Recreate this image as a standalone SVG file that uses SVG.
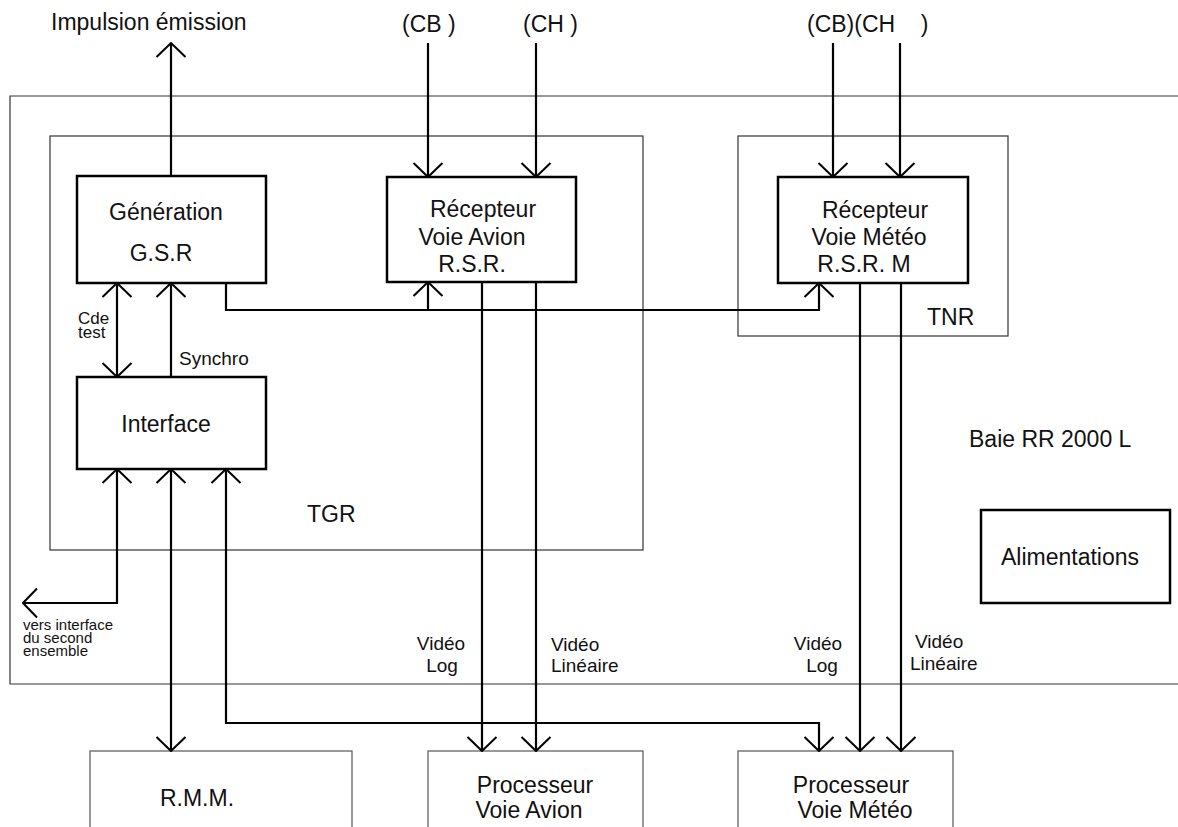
<svg xmlns="http://www.w3.org/2000/svg" width="1178" height="827" viewBox="0 0 1178 827">
<style>
text{font-family:"Liberation Sans",Arial,sans-serif;fill:#111;}
.t22{font-size:23px;}
.t19{font-size:19px;}
.t17{font-size:17px;}
.t18{font-size:19px;}
.t15{font-size:15px;}
.box{fill:#fff;stroke:#000;stroke-width:2.5;}
.thin{fill:none;stroke:#333;stroke-width:1.2;}
.bot{fill:#fff;stroke:#555;stroke-width:1.2;}
.c{fill:none;stroke:#000;stroke-width:2.2;}
</style>
<defs>
<marker id="ah" viewBox="0 0 16 32" refX="15" refY="16" markerWidth="16" markerHeight="32" markerUnits="userSpaceOnUse" orient="auto-start-reverse">
<path d="M1,1.5 L15,16 L1,30.5" fill="none" stroke="#000" stroke-width="2"/>
</marker>
</defs>
<rect width="1178" height="827" fill="#fff"/>
<g id="baie">
<path class="thin" d="M1180,96 H10 V684 H1180"/>
<text class="t22" x="969" y="447">Baie RR 2000 L</text>
</g>
<g id="tgr">
<rect class="thin" x="50" y="136" width="593" height="414"/>
<text class="t22" x="307" y="522">TGR</text>
</g>
<g id="tnr">
<rect class="thin" x="738" y="136" width="270" height="200"/>
<text class="t22" x="927" y="325">TNR</text>
</g>
<g id="generation">
<rect class="box" x="77" y="176" width="189" height="107"/>
<text class="t22" x="166" y="220" text-anchor="middle">Génération</text>
<text class="t22" x="161" y="261" text-anchor="middle">G.S.R</text>
</g>
<g id="recepteur-avion">
<rect class="box" x="387" y="177" width="189" height="105"/>
<text class="t22" x="483" y="217" text-anchor="middle">Récepteur</text>
<text class="t22" x="472" y="245" text-anchor="middle">Voie Avion</text>
<text class="t22" x="472" y="272" text-anchor="middle">R.S.R.</text>
</g>
<g id="recepteur-meteo">
<rect class="box" x="778" y="177" width="190" height="106"/>
<text class="t22" x="875" y="218" text-anchor="middle">Récepteur</text>
<text class="t22" x="869" y="245" text-anchor="middle">Voie Météo</text>
<text class="t22" x="864" y="272" text-anchor="middle">R.S.R. M</text>
</g>
<g id="interface">
<rect class="box" x="77" y="377" width="189" height="92"/>
<text class="t22" x="166" y="432" text-anchor="middle">Interface</text>
</g>
<g id="alimentations">
<rect class="box" x="981" y="510" width="189" height="93"/>
<text class="t22" x="1070" y="565" text-anchor="middle">Alimentations</text>
</g>
<g id="rmm">
<rect class="bot" x="90" y="751" width="262" height="90"/>
<text class="t22" x="197" y="806" text-anchor="middle">R.M.M.</text>
</g>
<g id="proc-avion">
<rect class="bot" x="428" y="751" width="215" height="90"/>
<text class="t22" x="535" y="793" text-anchor="middle">Processeur</text>
<text class="t22" x="529" y="818" text-anchor="middle">Voie Avion</text>
</g>
<g id="proc-meteo">
<rect class="bot" x="738" y="751" width="215" height="90"/>
<text class="t22" x="851" y="793" text-anchor="middle">Processeur</text>
<text class="t22" x="855" y="818" text-anchor="middle">Voie Météo</text>
</g>
<g id="connectors">
<path class="c" d="M171,176 V43" marker-end="url(#ah)"/>
<path class="c" d="M428,43 V177" marker-end="url(#ah)"/>
<path class="c" d="M536,43 V177" marker-end="url(#ah)"/>
<path class="c" d="M833,43 V177" marker-end="url(#ah)"/>
<path class="c" d="M900,43 V177" marker-end="url(#ah)"/>
<path class="c" d="M226,283 V310 H819 V283" marker-end="url(#ah)"/>
<path class="c" d="M428,310 V282" marker-end="url(#ah)"/>
<path class="c" d="M117,283 V377" marker-start="url(#ah)" marker-end="url(#ah)"/>
<path class="c" d="M171,377 V283" marker-end="url(#ah)"/>
<path class="c" d="M23,603 H117 V469" marker-start="url(#ah)" marker-end="url(#ah)"/>
<path class="c" d="M171,469 V751" marker-start="url(#ah)" marker-end="url(#ah)"/>
<path class="c" d="M226,469 V723 H819 V751" marker-start="url(#ah)" marker-end="url(#ah)"/>
<path class="c" d="M482,282 V751" marker-end="url(#ah)"/>
<path class="c" d="M536,282 V751" marker-end="url(#ah)"/>
<path class="c" d="M860,283 V751" marker-end="url(#ah)"/>
<path class="c" d="M901,283 V751" marker-end="url(#ah)"/>
</g>
<g id="labels">
<text class="t22" x="51" y="30">Impulsion émission</text>
<text class="t22" x="402" y="32">(CB )</text>
<text class="t22" x="523" y="32">(CH )</text>
<text class="t22" x="807" y="32" xml:space="preserve">(CB)(CH    )</text>
<text class="t17" x="78" y="324">Cde</text>
<text class="t17" x="78" y="338">test</text>
<text class="t18" x="179" y="365">Synchro</text>
<text class="t15" x="23" y="630">vers interface</text>
<text class="t15" x="23" y="643">du second</text>
<text class="t15" x="23" y="656">ensemble</text>
<text class="t19" x="441" y="650" text-anchor="middle">Vidéo</text>
<text class="t19" x="442" y="672" text-anchor="middle">Log</text>
<text class="t19" x="551" y="651">Vidéo</text>
<text class="t19" x="551" y="672">Linéaire</text>
<text class="t19" x="818" y="650" text-anchor="middle">Vidéo</text>
<text class="t19" x="822" y="672" text-anchor="middle">Log</text>
<text class="t19" x="915" y="648">Vidéo</text>
<text class="t19" x="910" y="670">Linéaire</text>
</g>
</svg>
